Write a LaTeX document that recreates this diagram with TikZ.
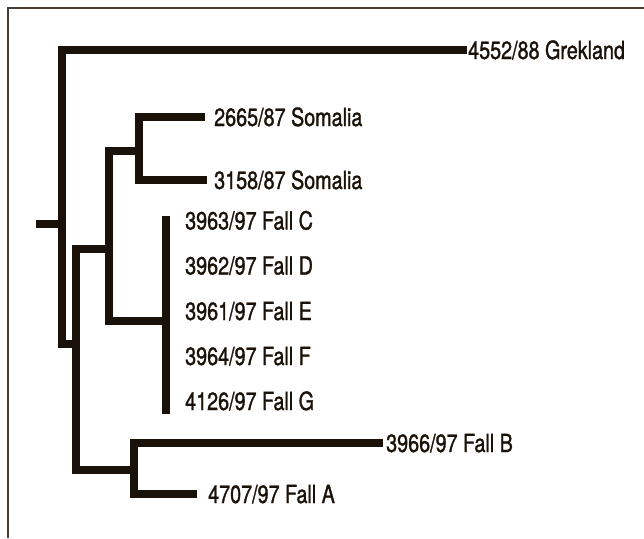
\documentclass[tikz,border=0pt]{standalone}
\usepackage{fontspec}
\setmainfont{TeX Gyre Heros}[FakeStretch=0.79,FakeBold=1.2]
\usepackage{tikz}
\usetikzlibrary{positioning}
\definecolor{ink}{RGB}{26,18,8}
\definecolor{rule}{RGB}{70,62,54}

\begin{document}
\begin{tikzpicture}[x=1pt,y=-1pt,
  bar/.style={draw=ink,line width=8.5pt,line cap=butt,line join=miter},
  leaf/.style={anchor=west,inner xsep=0pt,inner ysep=0pt,text height=18pt,text depth=0pt,text=ink,
    font=\fontsize{25}{30}\selectfont}]
  \useasboundingbox (0,0) rectangle (644,538);
  \draw[rule,line width=1.2pt] (8,538) -- (8,8) -- (644,8);

  % junctions of the tree
  \coordinate (r0) at (36,224);
  \coordinate (j0) at (62,224);
  \coordinate (j1) at (76,344);
  \coordinate (j2) at (109,249);
  \coordinate (j3) at (139,151);
  \coordinate (j4) at (166,321);
  \coordinate (j5) at (134,470);
  \coordinate (cT) at (166,216);
  \coordinate (cB) at (166,414);

  % leaves
  \node[leaf] (grek) at (468,50) {4552/88 Grekland};
  \node[leaf] (som1) at (214,117) {2665/87 Somalia};
  \node[leaf] (som2) at (214,180) {3158/87 Somalia};
  \node[leaf] (fC) at (185,220.5) {3963/97 Fall C};
  \node[leaf] (fD) at (185,265.5) {3962/97 Fall D};
  \node[leaf] (fE) at (185,311) {3961/97 Fall E};
  \node[leaf] (fF) at (185,356) {3964/97 Fall F};
  \node[leaf] (fG) at (185,401) {4126/97 Fall G};
  \node[leaf] (fB) at (386,443) {3966/97 Fall B};
  \node[leaf] (fA) at (208,494) {4707/97 Fall A};

  \draw[bar] (r0) -- (j0);
  \draw[bar,shorten >=1pt] (j0) |- (grek.west);
  \draw[bar] (j0) |- (j1);
  \draw[bar] (j1) |- (j2);
  \draw[bar] (j1) |- (j5);
  \draw[bar] (j2) |- (j3);
  \draw[bar] (j2) |- (j4);
  \draw[bar,shorten >=9pt] (j3) |- (som1.west);
  \draw[bar,shorten >=7pt] (j3) |- (som2.west);
  \draw[bar] (cT) -- (cB);
  \draw[bar,shorten >=3pt] (j5) |- (fB.west);
  \draw[bar,shorten >=11pt] (j5) |- (fA.west);
\end{tikzpicture}
\end{document}
